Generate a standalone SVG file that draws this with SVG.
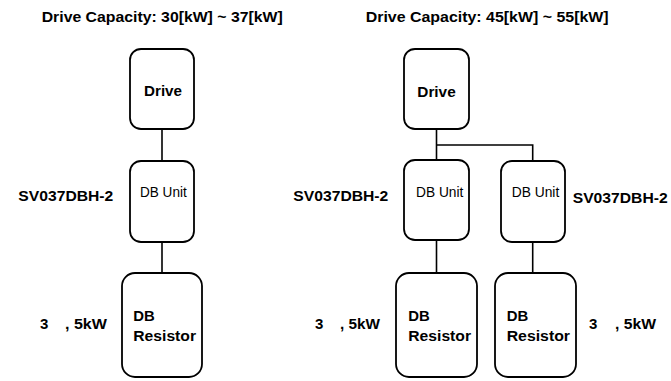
<svg xmlns="http://www.w3.org/2000/svg" width="671" height="381" viewBox="0 0 671 381">
<style>
.box{fill:#fff;stroke:#000;stroke-width:1.8}
.ln{fill:none;stroke:#000;stroke-width:1.6}
.t{font-family:"Liberation Sans",Arial,sans-serif;font-weight:bold;font-size:14.5px;fill:#000}
.b{font-family:"Liberation Sans",Arial,sans-serif;font-weight:bold;font-size:15px;fill:#000}
.r{font-family:"Liberation Sans",Arial,sans-serif;font-size:15px;fill:#000}
.d{font-family:"Liberation Sans",Arial,sans-serif;font-weight:bold;font-size:15.5px;fill:#000}
</style>
<rect width="671" height="381" fill="#fff"/>
<g id="labels">
<text class="t" x="41.7" y="22.3" textLength="241" lengthAdjust="spacingAndGlyphs">Drive Capacity: 30[kW] ~ 37[kW]</text>
<text class="t" x="365.7" y="22.3" textLength="243" lengthAdjust="spacingAndGlyphs">Drive Capacity: 45[kW] ~ 55[kW]</text>
<text class="b" x="18.3" y="200.7" textLength="95" lengthAdjust="spacingAndGlyphs">SV037DBH-2</text>
<text class="b" x="293.3" y="200.7" textLength="95" lengthAdjust="spacingAndGlyphs">SV037DBH-2</text>
<text class="b" x="572.7" y="203.3" textLength="95" lengthAdjust="spacingAndGlyphs">SV037DBH-2</text>
<text class="b" y="329"><tspan x="40">3</tspan><tspan x="65" textLength="42" lengthAdjust="spacingAndGlyphs">, 5kW</tspan></text>
<text class="b" y="328.5"><tspan x="315">3</tspan><tspan x="340" textLength="40" lengthAdjust="spacingAndGlyphs">, 5kW</tspan></text>
<text class="b" y="328.5"><tspan x="589">3</tspan><tspan x="615" textLength="41" lengthAdjust="spacingAndGlyphs">, 5kW</tspan></text>
</g>
<g id="connectors">
<line class="ln" x1="162" y1="129" x2="162" y2="161"/>
<line class="ln" x1="162" y1="242" x2="162" y2="273"/>
<line class="ln" x1="436.5" y1="129" x2="436.5" y2="160"/>
<polyline class="ln" points="436.5,145 532.7,145 532.7,161"/>
<line class="ln" x1="436.5" y1="240" x2="436.5" y2="273"/>
<line class="ln" x1="532.7" y1="242" x2="532.7" y2="273"/>
</g>
<g id="drive1">
<rect class="box" x="130" y="49" width="64" height="80" rx="11"/>
<text class="d" x="144" y="96" textLength="38" lengthAdjust="spacingAndGlyphs">Drive</text>
</g>
<g id="dbunit1">
<rect class="box" x="130" y="161" width="64" height="81" rx="11"/>
<text class="r" x="140" y="196.7" textLength="46.7" lengthAdjust="spacingAndGlyphs">DB Unit</text>
</g>
<g id="resistor1">
<rect class="box" x="122" y="273" width="80" height="104" rx="13"/>
<text class="b" x="133.3" y="320.5" textLength="21.5" lengthAdjust="spacingAndGlyphs">DB</text>
<text class="b" x="133.3" y="340.5" textLength="62.7" lengthAdjust="spacingAndGlyphs">Resistor</text>
</g>
<g id="drive2">
<rect class="box" x="404" y="49" width="65" height="80" rx="11"/>
<text class="d" x="417.3" y="96.5" textLength="38.4" lengthAdjust="spacingAndGlyphs">Drive</text>
</g>
<g id="dbunit2">
<rect class="box" x="404" y="160" width="65" height="80" rx="11"/>
<text class="r" x="416" y="196.7" textLength="47.3" lengthAdjust="spacingAndGlyphs">DB Unit</text>
</g>
<g id="dbunit3">
<rect class="box" x="501" y="161" width="64" height="81" rx="11"/>
<text class="r" x="511.7" y="196.7" textLength="47.6" lengthAdjust="spacingAndGlyphs">DB Unit</text>
</g>
<g id="resistor2">
<rect class="box" x="396" y="273" width="81" height="104" rx="13"/>
<text class="b" x="408.3" y="320.5" textLength="21.5" lengthAdjust="spacingAndGlyphs">DB</text>
<text class="b" x="408.3" y="340.5" textLength="62.7" lengthAdjust="spacingAndGlyphs">Resistor</text>
</g>
<g id="resistor3">
<rect class="box" x="495" y="273" width="81" height="104" rx="13"/>
<text class="b" x="506.7" y="320.5" textLength="21.5" lengthAdjust="spacingAndGlyphs">DB</text>
<text class="b" x="506.7" y="340.5" textLength="63.3" lengthAdjust="spacingAndGlyphs">Resistor</text>
</g>
</svg>
